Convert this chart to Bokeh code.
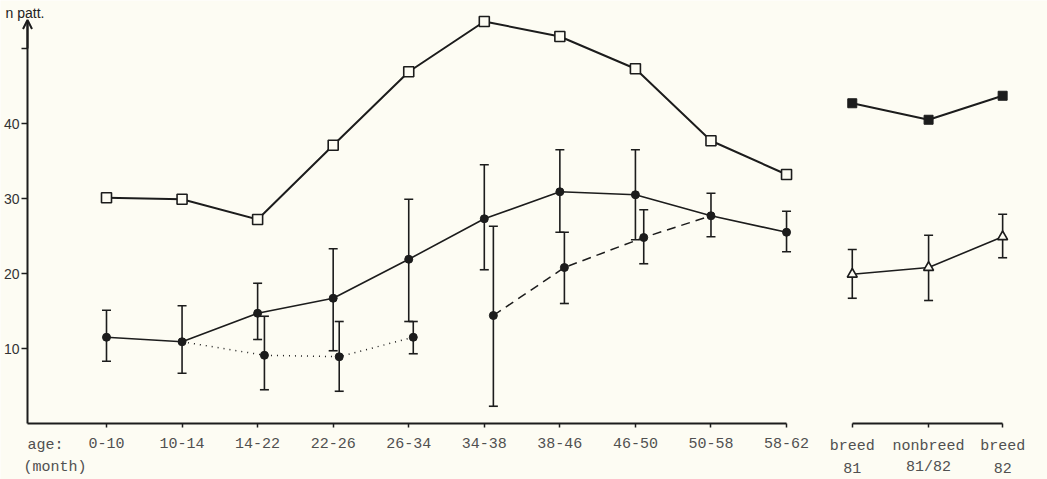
from bokeh.plotting import figure
from bokeh.models import (ColumnDataSource, Whisker, TeeHead, Range1d, FixedTicker,
                          Label, Arrow, OpenHead, LinearAxis)
from bokeh.embed import file_html
from bokeh.resources import INLINE

# ---------------- data ----------------
months = ["0-10", "10-14", "14-22", "22-26", "26-34", "34-38", "38-46", "46-50", "50-58", "58-62"]
month_x = list(range(10))
season_labels = ["breed", "nonbreed", "breed"]
season_years = ["81", "81/82", "82"]
season_x = [9.87, 10.88, 11.86]

squares = [30.1, 29.9, 27.2, 37.1, 46.9, 53.6, 51.6, 47.3, 37.7, 33.2]
season_squares = [42.7, 40.5, 43.7]

mean = [11.5, 10.9, 14.7, 16.7, 21.9, 27.3, 30.9, 30.5, 27.7, 25.5]
mean_hi = [15.1, 15.7, 18.7, 23.3, 29.9, 34.5, 36.5, 36.5, 30.7, 28.3]
mean_lo = [8.3, 6.7, 11.2, 9.7, 13.6, 20.5, 25.5, 24.5, 24.9, 22.9]

dot_x = [2.09, 3.08, 4.06]
dot_mean = [9.1, 8.9, 11.5]
dot_hi = [14.3, 13.6, 13.6]
dot_lo = [4.5, 4.3, 9.3]

dash_x = [5.12, 6.06, 7.11]
dash_mean = [14.4, 20.8, 24.8]
dash_hi = [26.3, 25.5, 28.5]
dash_lo = [2.3, 16.0, 21.3]

tri_mean = [19.9, 20.8, 24.9]
tri_hi = [23.2, 25.1, 27.9]
tri_lo = [16.7, 16.4, 22.1]

y_ticks = [10, 20, 30, 40, 50]

# ---------------- layout constants ----------------
INK = "#1c1c1c"
BG = "#fdfcf3"
LABEL_C = "#505050"
MONO = "Liberation Mono"
SANS = "Liberation Sans"

W, H = 1047, 479
PX = 75.56          # pixels per category
X0 = 106            # pixel x of category 0
PY = 7.5            # pixels per unit
Y0 = 423            # pixel y of value 0

x_range = Range1d(-X0 / PX, (W - X0) / PX)
y_range = Range1d((Y0 - H) / PY, Y0 / PY)
y_axis_x = (27 - X0) / PX

p = figure(width=W, height=H, x_range=x_range, y_range=y_range,
           output_backend="svg", toolbar_location=None,
           min_border_left=0, min_border_right=0, min_border_top=0,
           min_border_bottom=0, background_fill_color=BG,
           border_fill_color=BG, outline_line_color=None)
p.title.visible = False
p.grid.visible = False

# y axis
ya = p.yaxis[0]
ya.fixed_location = y_axis_x
ya.ticker = FixedTicker(ticks=y_ticks)
ya.major_label_overrides = {50: ""}
ya.bounds = (0, 53.4)
ya.axis_line_color = INK
ya.axis_line_width = 2
ya.major_tick_line_color = INK
ya.major_tick_line_width = 1.3
ya.major_tick_in = 0
ya.major_tick_out = 6
ya.minor_tick_line_color = None
ya.major_label_text_font = SANS
ya.major_label_text_font_size = "14px"
ya.major_label_text_color = "#333333"
ya.major_label_standoff = 2


def style_x_axis(ax):
    ax.fixed_location = 0
    ax.axis_line_color = INK
    ax.axis_line_width = 2
    ax.major_tick_line_color = INK
    ax.major_tick_line_width = 1.5
    ax.major_tick_in = 0
    ax.major_tick_out = 4
    ax.minor_tick_line_color = None
    ax.major_label_text_font = MONO
    ax.major_label_text_font_size = "15px"
    ax.major_label_text_color = LABEL_C
    ax.major_label_standoff = 10


xa = p.xaxis[0]
xa.ticker = FixedTicker(ticks=month_x)
xa.major_label_overrides = {i: m for i, m in zip(month_x, months)}
xa.bounds = (y_axis_x, month_x[-1])
style_x_axis(xa)

xb = LinearAxis()
xb.ticker = FixedTicker(ticks=season_x)
xb.major_label_overrides = {x: s for x, s in zip(season_x, season_labels)}
xb.bounds = (season_x[0], season_x[-1])
style_x_axis(xb)
p.add_layout(xb, "below")

# arrow on y axis
p.add_layout(Arrow(x_start=y_axis_x, y_start=50, x_end=y_axis_x, y_end=53.8,
                   line_color=INK, line_width=2,
                   end=OpenHead(size=9, line_color=INK, line_width=2)))


def whiskers(x, lo, hi):
    src = ColumnDataSource(dict(x=x, lo=lo, hi=hi))
    w = Whisker(source=src, base="x", lower="lo", upper="hi",
                line_color=INK, line_width=1.6,
                upper_head=TeeHead(size=9, line_color=INK, line_width=1.6),
                lower_head=TeeHead(size=9, line_color=INK, line_width=1.6))
    p.add_layout(w)


# lines
p.line(month_x, squares, line_color=INK, line_width=2)
p.line(season_x, season_squares, line_color=INK, line_width=2)
p.line(month_x, mean, line_color=INK, line_width=1.6)
p.line(season_x, tri_mean, line_color=INK, line_width=1.6)
p.line([month_x[1]] + dot_x, [mean[1]] + dot_mean, line_color=INK,
       line_width=1.5, line_dash="1 5")
p.line(dash_x + [month_x[8]], dash_mean + [mean[8]], line_color=INK,
       line_width=1.5, line_dash="9 6")

whiskers(month_x, mean_lo, mean_hi)
whiskers(dot_x, dot_lo, dot_hi)
whiskers(dash_x, dash_lo, dash_hi)
whiskers(season_x, tri_lo, tri_hi)

p.scatter(month_x, squares, marker="square", size=10, line_color=INK,
          line_width=1.6, fill_color=BG)
p.scatter(season_x, season_squares, marker="square", size=9, line_color=INK,
          fill_color=INK)
p.scatter(month_x, mean, marker="circle", size=8, line_color=INK, fill_color=INK)
p.scatter(dot_x, dot_mean, marker="circle", size=8, line_color=INK, fill_color=INK)
p.scatter(dash_x, dash_mean, marker="circle", size=8, line_color=INK, fill_color=INK)
p.scatter(season_x, tri_mean, marker="triangle", size=10, line_color=INK,
          line_width=1.6, fill_color=BG)

# texts outside the data area
p.add_layout(Label(x=5, y=H - 12, x_units="screen", y_units="screen",
                   text="n patt.", text_font=SANS, text_font_size="14px",
                   text_color="#222222", text_baseline="middle", text_align="left"))
p.add_layout(Label(x=27, y=H - 445, x_units="screen", y_units="screen",
                   text="age:", text_font=MONO, text_font_size="15px",
                   text_color=LABEL_C, text_baseline="middle", text_align="left"))
p.add_layout(Label(x=23, y=H - 467, x_units="screen", y_units="screen",
                   text="(month)", text_font=MONO, text_font_size="15px",
                   text_color=LABEL_C, text_baseline="middle", text_align="left"))
for sx, yr in zip(season_x, season_years):
    p.add_layout(Label(x=sx, y=H - 467, x_units="data", y_units="screen",
                       text=yr, text_font=MONO, text_font_size="15px",
                       text_color=LABEL_C, text_baseline="middle",
                       text_align="center"))

open("out.html", "w").write(file_html(p, INLINE))
